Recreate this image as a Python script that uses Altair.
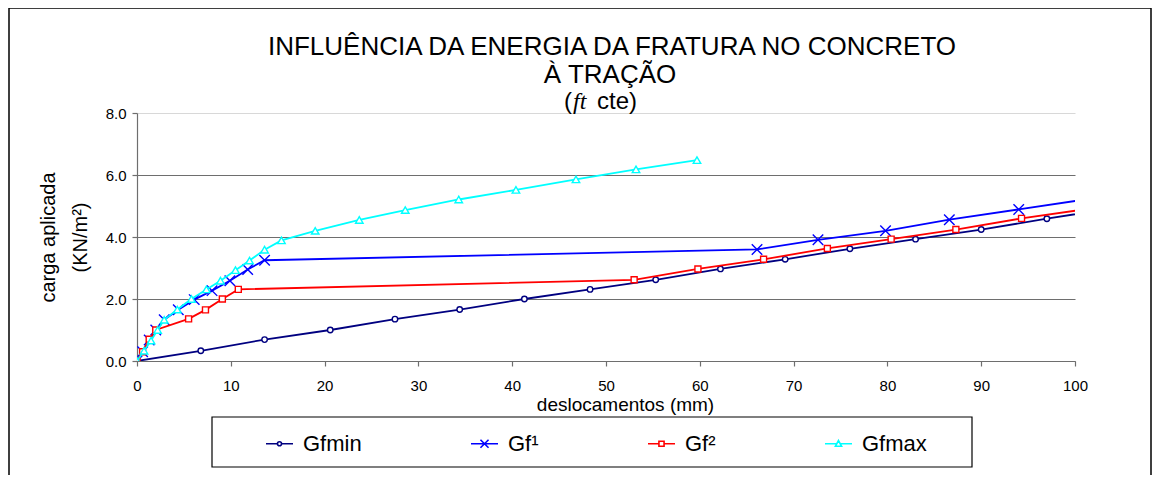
import altair as alt
import pandas as pd

# ---------------- data ----------------
series_names = ["Gfmin", "Gf¹", "Gf²", "Gfmax"]
series_colors = ["#000080", "#0000FF", "#FF0000", "#00FFFF"]

gfmin_x = [0, 6.8, 13.6, 20.6, 27.5, 34.4, 41.3, 48.3, 55.3, 62.2, 69.1, 76.0, 83.0, 90.0, 97.0, 103.9]
gfmin_y = [0, 0.33, 0.69, 1.00, 1.35, 1.66, 2.00, 2.31, 2.62, 2.97, 3.28, 3.62, 3.93, 4.24, 4.59, 4.92]

gf1_x = [0, 0.6, 1.3, 2.0, 2.9, 4.4, 6.1, 8.0, 9.9, 11.8, 13.6, 66.1, 72.6, 79.8, 86.6, 94.0, 101.3]
gf1_y = [0, 0.30, 0.68, 1.00, 1.33, 1.65, 1.98, 2.27, 2.59, 2.95, 3.25, 3.60, 3.91, 4.20, 4.56, 4.89, 5.22]

gf2_x = [0, 0.6, 1.3, 2.0, 5.5, 7.3, 9.1, 10.8, 53.0, 59.8, 66.8, 73.6, 80.4, 87.3, 94.3, 101.2]
gf2_y = [0, 0.30, 0.70, 1.00, 1.36, 1.65, 2.00, 2.31, 2.62, 2.97, 3.28, 3.63, 3.93, 4.24, 4.60, 4.90]

gfmax_x = [0, 0.75, 1.5, 2.2, 2.9, 4.3, 5.8, 7.4, 8.9, 10.5, 12.0, 13.6, 15.4, 19.0, 23.7, 28.6, 34.3, 40.4, 46.8, 53.2, 59.7]
gfmax_y = [0, 0.33, 0.66, 1.00, 1.33, 1.66, 2.00, 2.31, 2.59, 2.93, 3.24, 3.59, 3.89, 4.20, 4.55, 4.87, 5.21, 5.52, 5.86, 6.18, 6.48]

x_ticks = [0, 10, 20, 30, 40, 50, 60, 70, 80, 90, 100]
y_ticks = [0, 2, 4, 6, 8]

title_line1 = "INFLUÊNCIA DA ENERGIA DA FRATURA NO CONCRETO"
title_line2 = "À TRAÇÃO"
x_title = "deslocamentos (mm)"
y_title = ["carga aplicada", "(KN/m²)"]

# ---------------- build table ----------------
xs = [gfmin_x, gf1_x, gf2_x, gfmax_x]
ys = [gfmin_y, gf1_y, gf2_y, gfmax_y]
rows = []
for name, xv, yv in zip(series_names, xs, ys):
    for i, (a, b) in enumerate(zip(xv, yv)):
        rows.append({"series": name, "x": a, "y": b, "i": i})
df = pd.DataFrame(rows)

FONT = "Liberation Sans"

x_enc = alt.X("x:Q", scale=alt.Scale(domain=[0, 100], nice=False, zero=False),
              axis=alt.Axis(values=x_ticks, format="d", grid=False, title=x_title,
                            tickSize=5, labelPadding=12, labelFlush=False, labelOverlap=False,
                            labelFontSize=15, labelFont=FONT, labelColor="#000000",
                            titleX=488, titleY=49, titleAlign="center", titleBaseline="alphabetic",
                            titleFontSize=19, titleFontWeight="normal", titleFont=FONT,
                            titleColor="#000000"))
y_enc = alt.Y("y:Q", scale=alt.Scale(domain=[0, 8], nice=False),
              axis=alt.Axis(values=y_ticks, format=".1f", grid=True,
                            gridColor={"condition": {"test": "datum.value === 8", "value": "#d8d8d8"},
                                       "value": "#6e6e6e"},
                            title=y_title, tickSize=5, labelPadding=6, labelFlush=False,
                            labelOverlap=False, labelFontSize=15, labelFont=FONT,
                            labelColor="#000000",
                            titleAngle=270, titleX=-83, titleY=124,
                            titleAlign="center", titleBaseline="alphabetic", titleLineHeight=32,
                            titleFontSize=20, titleFontWeight="normal", titleFont=FONT,
                            titleColor="#000000"))

marker_shapes = ["circle", "M-1,-1L1,1M-1,1L1,-1", "square", "triangle-up"]
marker_sizes = [30, 110, 36, 56]
marker_fill_op = [1, 0, 1, 1]

layers = []
for name, col, shp, sz, fo in zip(series_names, series_colors, marker_shapes, marker_sizes, marker_fill_op):
    base = alt.Chart(df).transform_filter(alt.datum.series == name)
    line = base.mark_line(color=col, strokeWidth=1.8, clip=True).encode(
        x=x_enc, y=y_enc, order="i:Q")
    pts = base.mark_point(shape=shp, size=sz, filled=False, fill="white", fillOpacity=fo,
                          stroke=col, strokeWidth=1.4, opacity=1, clip=True).encode(x=x_enc, y=y_enc)
    layers += [line, pts]

legend_paths = [
    "M-1,0H-0.15M0.15,0H1M-0.15,0A0.15,0.15 0 1,0 0.15,0A0.15,0.15 0 1,0 -0.15,0",
    "M-1,0H1M-0.3,-0.3L0.3,0.3M-0.3,0.3L0.3,-0.3",
    "M-1,0H-0.19M0.19,0H1M-0.19,-0.19H0.19V0.19H-0.19Z",
    "M-1,0H-0.12M0.12,0H1M0,-0.24L0.23,0.19H-0.23Z",
]
leg = alt.Legend(title=None, orient="none", legendX=128, legendY=316, direction="horizontal",
                 columns=4, columnPadding=105, symbolSize=729, symbolStrokeWidth=1.6,
                 symbolOpacity=1, symbolFillColor="white", labelFontSize=22, labelFont=FONT,
                 labelOffset=9, labelColor="#000000", padding=0)
legend_layer = alt.Chart(df).mark_point(filled=False, opacity=0).encode(
    x=x_enc, y=y_enc,
    color=alt.Color("series:N", scale=alt.Scale(domain=series_names, range=series_colors), legend=leg),
    shape=alt.Shape("series:N", scale=alt.Scale(domain=series_names, range=legend_paths), legend=leg),
)

one = alt.Data(values=[{"k": 1}])
frame = alt.Chart(one).mark_rect(fill="white", fillOpacity=0, stroke="#000000", strokeWidth=1.5,
                                 clip=False).encode(
    x=alt.value(-128), x2=alt.value(1014), y=alt.value(-105), y2=alt.value(380))
legend_box = alt.Chart(one).mark_rect(fill="white", fillOpacity=0, stroke="#000000", strokeWidth=1.2,
                                      clip=False).encode(
    x=alt.value(75), x2=alt.value(835), y=alt.value(304), y2=alt.value(354))

def txt(text, x, y, size=26, font=FONT, style="normal", align="center"):
    return alt.Chart(one).mark_text(text=text, font=font, fontSize=size, fontStyle=style,
                                    align=align, baseline="alphabetic", color="#000000",
                                    clip=False).encode(x=alt.value(x), y=alt.value(y))

titles = [
    txt(title_line1, 475, -58),
    txt(title_line2, 473, -30),
    txt("(", 427, -4, size=24, align="left"),
    txt("ft", 436, -4, size=24, font="Liberation Serif", style="italic", align="left"),
    txt("cte)", 460, -4, size=24, align="left"),
]

chart = alt.layer(frame, legend_box, *titles, *layers, legend_layer).properties(
    width=938, height=248,
    padding={"left": 129, "top": 105, "right": 78, "bottom": 114},
    autosize=alt.AutoSizeParams(type="none"),
    background="white",
).configure_view(stroke=None).configure_axis(
    domainColor="#6e6e6e", tickColor="#6e6e6e", domainWidth=1.2, tickWidth=1.2, gridWidth=1.2,
)

chart.save("out.html", embed_options={"renderer": "svg", "actions": False})
